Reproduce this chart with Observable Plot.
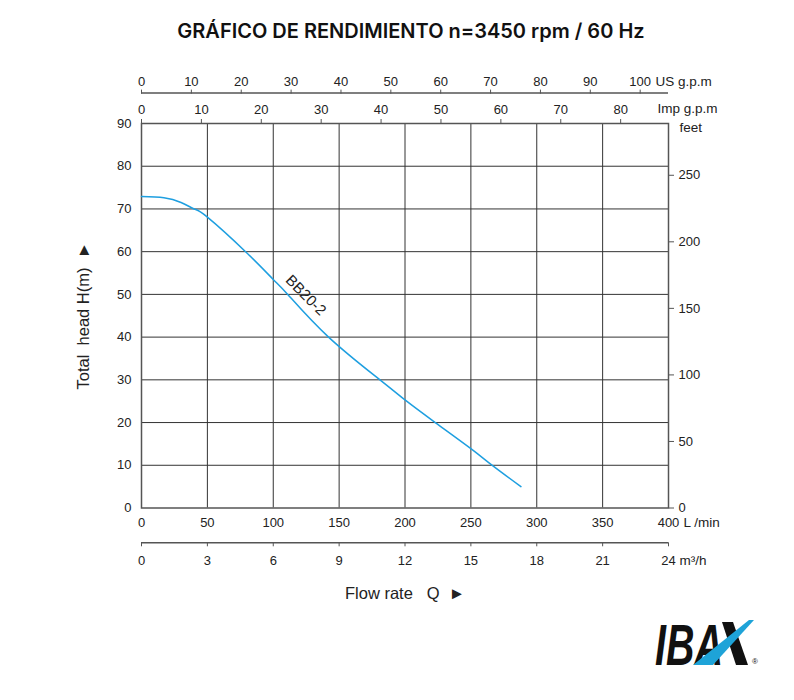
<!DOCTYPE html>
<html>
<head>
<meta charset="utf-8">
<script src="https://cdn.jsdelivr.net/npm/d3@7"></script>
<script src="https://cdn.jsdelivr.net/npm/@observablehq/plot@0.6"></script>
<style>
  html, body { margin: 0; padding: 0; background: #fff; }
  body { width: 794px; height: 700px; overflow: hidden; font-family: "Liberation Sans", Arial, sans-serif; }
  #title { height: 56px; box-sizing: border-box; padding-top: 19px; padding-left: 28px;
           font: 600 20px/24px Inter, "Noto Sans", sans-serif; text-align: center; color: #111; }
  #chart svg { display: block; }
  #logo { position: relative; height: 90px; }
  #logo svg { position: absolute; left: 648px; top: 0px; }
</style>
</head>
<body>
<div id="title">GRÁFICO DE RENDIMIENTO n=3450 rpm / 60 Hz</div>
<div id="chart"></div>
<div id="logo">
  <svg width="125" height="86" viewBox="0 0 125 86">
    <g transform="translate(7,55) scale(0.68,1)">
      <text x="0" y="0" font-family="Liberation Sans, Arial, sans-serif" font-weight="bold" font-style="italic"
            font-size="58" fill="#111">IBA</text>
    </g>
    <polygon points="74,12 85,12 100,55 88,55" fill="#111"/>
    <polygon points="45,55 65,55 106,10 101,10" fill="#1ea3d8"/>
    <text x="104" y="54" font-family="Liberation Sans, Arial, sans-serif" font-size="8" fill="#111">®</text>
  </svg>
</div>
<script>
// ---- data ----
const flowLmin = [0, 17, 30, 40, 50, 79, 100, 111, 142, 181, 200, 223, 250, 267, 288];
const headM    = [72.9, 72.6, 71.5, 70, 68.1, 60, 53.5, 50, 40, 30, 25.3, 20, 13.9, 9.8, 5.0];
const seriesName = "BB20-2";

const headTicks   = [0, 10, 20, 30, 40, 50, 60, 70, 80, 90];
const flowTicks   = [0, 50, 100, 150, 200, 250, 300, 350, 400];
const usGpmTicks  = [0, 10, 20, 30, 40, 50, 60, 70, 80, 90, 100];
const impGpmTicks = [0, 10, 20, 30, 40, 50, 60, 70, 80];
const feetTicks   = [0, 50, 100, 150, 200, 250];
const m3hTicks    = [0, 3, 6, 9, 12, 15, 18, 21, 24];

const LPM_PER_USGPM = 3.785;
const LPM_PER_IMPGPM = 4.546;
const LPM_PER_M3H = 400 / 24;
const FT_PER_M = 3.21;

const curve = flowLmin.map((q, i) => ({flow: q, head: headM[i]}));
const labelPoint = [curve[7]];

const ink = "#222";
const gridColor = "#333";
const axisColor = "#555";
const blue = "#1e9fe0";

const unit = (txt, anchor, dx, dy) =>
  Plot.text([txt], {frameAnchor: anchor, text: d => d, dx, dy, textAnchor: "start", lineAnchor: "middle", fontSize: 13.5, fill: ink});

const chart = Plot.plot({
  width: 794,
  height: 554,
  marginTop: 67,
  marginBottom: 102.5,
  marginLeft: 141,
  marginRight: 126,
  x: {domain: [0, 400], axis: null, label: null},
  y: {domain: [0, 90], axis: null, label: null},
  style: {fontFamily: "'Liberation Sans', Arial, sans-serif", fontSize: "13px", color: ink, background: "#fff"},
  marks: [
    // grid
    Plot.ruleY(headTicks.slice(1, -1), {stroke: gridColor, strokeWidth: 1}),
    Plot.ruleX(flowTicks.slice(1, -1), {stroke: gridColor, strokeWidth: 1}),
    Plot.frame({stroke: axisColor, strokeWidth: 1.5}),

    // curve
    Plot.line(curve, {x: "flow", y: "head", stroke: blue, strokeWidth: 1.5, curve: "natural"}),
    Plot.text(labelPoint, {x: "flow", y: "head", text: () => seriesName, rotate: 45, dx: 18, dy: 1,
      fontSize: 15, fill: ink}),

    // left axis (m)
    Plot.axisY(headTicks, {anchor: "left", tickSize: 0, tickPadding: 10, label: null, fontSize: 13}),

    // right axis (feet)
    Plot.axisY(feetTicks.map(f => f / FT_PER_M), {anchor: "right", tickSize: 5, tickPadding: 5,
      stroke: axisColor, tickFormat: d => Math.round(d * FT_PER_M), label: null, fontSize: 13}),
    unit("feet", "top-right", 11, 4),

    // bottom axis (L/min)
    Plot.axisX(flowTicks, {anchor: "bottom", tickSize: 0, tickPadding: 10, label: null, fontSize: 13}),
    unit("L /min", "bottom-right", 15, 14.2),

    // lower bottom axis (m3/h)
    Plot.ruleY([0], {dy: 34.8, stroke: axisColor, strokeWidth: 1.5}),
    Plot.axisX(m3hTicks.map(d => d * LPM_PER_M3H), {anchor: "bottom", dy: 34.8, tickSize: 4, tickPadding: 9,
      stroke: axisColor, tickFormat: d => Math.round(d / LPM_PER_M3H), label: null, fontSize: 13}),
    unit("m³/h", "bottom-right", 11, 52.5),

    // top axis (Imp g.p.m) on the frame
    Plot.axisX(impGpmTicks.map(d => d * LPM_PER_IMPGPM), {anchor: "top", tickSize: 5, tickPadding: 5,
      stroke: axisColor, tickFormat: d => Math.round(d / LPM_PER_IMPGPM), label: null, fontSize: 13}),
    unit("Imp g.p.m", "top-right", -11, -14.4),

    // top-most axis (US g.p.m)
    Plot.ruleY([90], {dy: -30.4, stroke: axisColor, strokeWidth: 1.5}),
    Plot.axisX(usGpmTicks.map(d => d * LPM_PER_USGPM), {anchor: "top", dy: -30.4, tickSize: 4, tickPadding: 3,
      stroke: axisColor, tickFormat: d => Math.round(d / LPM_PER_USGPM), label: null, fontSize: 13}),
    unit("US g.p.m", "top-right", -13, -42),

    // axis titles
    Plot.text(["Total\u00a0\u00a0head H(m)\u00a0\u00a0►"], {frameAnchor: "left", text: d => d, rotate: -90, dx: -58,
      textAnchor: "middle", lineAnchor: "middle", fontSize: 16.5, fill: ink}),
    Plot.text(["Flow rate\u00a0\u00a0\u00a0Q\u00a0\u00a0►"], {frameAnchor: "bottom", text: d => d, dy: 85.5,
      textAnchor: "middle", lineAnchor: "middle", fontSize: 16.5, fill: ink})
  ]
});
document.getElementById("chart").appendChild(chart);
</script>
</body>
</html>
